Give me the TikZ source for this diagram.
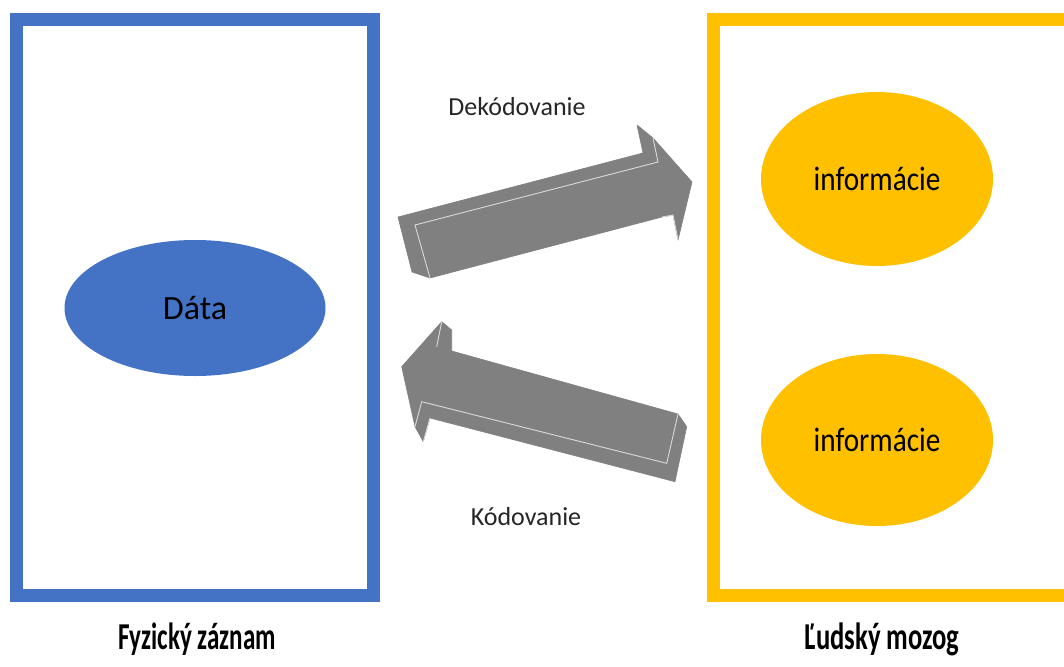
\documentclass[tikz,border=0pt]{standalone}
\usepackage{fontspec}
\setmainfont{Carlito}
\usetikzlibrary{shapes.geometric}
\definecolor{cblue}{HTML}{4472C4}
\definecolor{cyellow}{HTML}{FFC000}
\definecolor{cgray}{HTML}{808080}
\definecolor{cedge}{HTML}{DADADA}
\tikzset{
  frame/.style={line width=13pt},
  blob/.style={ellipse, inner sep=0pt, text=black},
  caption/.style={font=\fontsize{26}{30}\selectfont, text=black!85},
  title/.style={font=\bfseries\fontsize{38}{44}\selectfont, text=black},
  body/.style={fill=cgray, draw=cgray, line width=0.6pt, line join=round},
  hi/.style={draw=cedge, line width=0.9pt, line cap=round},
}
\begin{document}
\begin{tikzpicture}[x=1pt,y=-1pt]
\useasboundingbox[fill=white] (0,0) rectangle (1064,666);
% frames
\draw[frame, cblue] (16.5,20) rectangle (373.5,595.5);
\draw[frame, cyellow] (713.7,20) rectangle (1071,595.5);
% ellipses
\node[blob, fill=cblue, minimum width=261pt, minimum height=136pt,
      font=\fontsize{34}{40}\selectfont] (data) at (195,308) {Dáta};
\node[blob, fill=cyellow, minimum width=232pt, minimum height=174pt,
      font=\fontsize{34}{40}\selectfont] (info1) at (877,179) {\scalebox{0.86}[1]{informácie}};
\node[blob, fill=cyellow, minimum width=232pt, minimum height=172pt,
      font=\fontsize{34}{40}\selectfont] (info2) at (877,440) {\scalebox{0.86}[1]{informácie}};
% arrow 1 (Dekodovanie)
\coordinate (a1p1) at (430,278);
\coordinate (a1p2) at (415,225);
\coordinate (a1p3) at (658,162);
\coordinate (a1p4) at (653,138);
\coordinate (a1t)  at (692,182);
\coordinate (a1p6) at (678,240);
\coordinate (a1p7) at (673,215);
\coordinate (a1p8) at (662,217);
\coordinate (a1b1) at (412,272);
\coordinate (a1b2) at (398,217);
\coordinate (a1b3) at (643,153);
\coordinate (a1b4) at (637,125);
\draw[body] (a1b1) -- (a1b2) -- (a1b3) -- (a1b4) -- (a1p4) -- (a1t) -- (a1p6)
  -- (a1p7) -- (a1p8) -- (a1p1) -- cycle;
\draw[hi] (a1p1) -- (a1p2) -- (a1p3) -- (a1p4);
\draw[hi] (a1p8) -- (a1p7) -- (a1p6);
% arrow 2 (Kodovanie)
\coordinate (a2t)  at (401.7,366.7);
\coordinate (a2bt) at (441.7,321.7);
\coordinate (a2bk) at (451.7,330);
\coordinate (a2bj) at (451.7,351);
\coordinate (a2h)  at (436.7,346.7);
\coordinate (a2rt) at (678,414);
\coordinate (a2rk) at (686.7,426.7);
\coordinate (a2rb) at (675,481.7);
\coordinate (a2rf) at (666.7,463.3);
\coordinate (a2bb) at (421.7,401.7);
\coordinate (a2bbk) at (430,418);
\coordinate (a2lo) at (423.3,441.7);
\coordinate (a2lf) at (415,426.7);
\draw[body] (a2t) -- (a2bt) -- (a2bk) -- (a2bj) -- (a2rt) -- (a2rk) -- (a2rb)
  -- (a2bbk) -- (a2lo) -- (a2lf) -- cycle;
\draw[hi] (a2bt) -- (a2h);
\draw[hi] (a2bb) -- (a2rf) -- (a2rt);
\draw[hi] (a2bb) -- (a2lf);
\draw[hi] (a2bbk) -- (a2lo);
% captions
\node[caption] (dek) at (517,107) {Dekódovanie};
\node[caption] (kod) at (526,517) {Kódovanie};
\node[title] (fz) at (197,639) {\scalebox{0.66}[1]{Fyzický záznam}};
\node[title] (lm) at (882,639) {\scalebox{0.7}[1]{Ľudský mozog}};
\end{tikzpicture}
\end{document}
